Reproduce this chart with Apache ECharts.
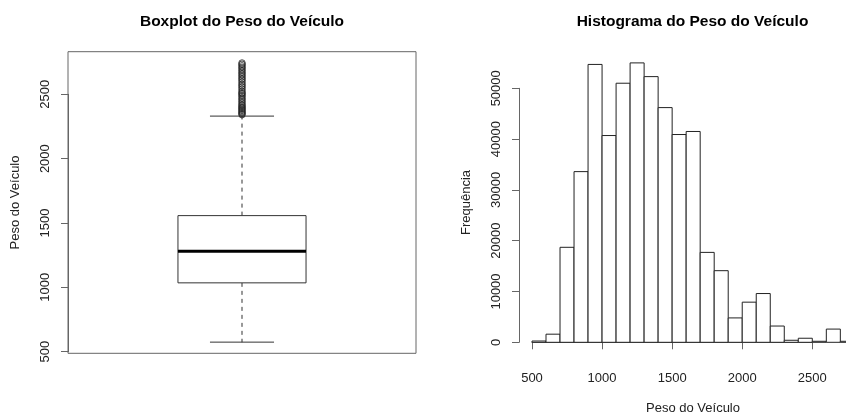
<!DOCTYPE html>
<html>
<head>
<meta charset="utf-8">
<script src="https://cdn.jsdelivr.net/npm/echarts@6/dist/echarts.min.js"></script>
<style>
  html, body { margin: 0; padding: 0; background: #fff; }
  #chart { width: 846px; height: 414px; }
</style>
</head>
<body>
<div id="chart"></div>
<script>
// Vehicle weight summary: lower whisker, Q1, median, Q3, upper whisker
const weightStats = [573, 1034, 1280, 1557, 2331];
// Points beyond the upper whisker
const weightOutliers = [2342, 2350, 2358, 2366, 2375, 2384, 2392, 2401, 2410, 2420, 2432,
  2445, 2458, 2470, 2483, 2495, 2505, 2513, 2525, 2540, 2555, 2568, 2580, 2595,
  2610, 2622, 2635, 2648, 2660, 2672, 2685, 2698, 2710, 2722, 2734, 2744];
const weightTicks = [500, 1000, 1500, 2000, 2500];

// Histogram bin edges and counts
const histBreaks = [500, 600, 700, 800, 900, 1000, 1100, 1200, 1300, 1400, 1500, 1600,
  1700, 1800, 1900, 2000, 2100, 2200, 2300, 2400, 2500, 2600, 2700, 2800];
const histCounts = [250, 1600, 18700, 33600, 54700, 40700, 51000, 55000, 52300, 46200,
  40900, 41500, 17700, 14100, 4800, 7900, 9600, 3200, 400, 800, 200, 2600, 200];
const histXTicks = [500, 1000, 1500, 2000, 2500];
const histYTicks = [0, 10000, 20000, 30000, 40000, 50000];

const FONT = "'Liberation Sans', Arial, sans-serif";
const AXIS_COLOR = '#666';
const INK = '#222';
const plain = v => String(v);

function renderBox(params, api) {
  const x = api.value(0);
  const lo = api.value(1), q1 = api.value(2), med = api.value(3), q3 = api.value(4), hi = api.value(5);
  const bw = 0.184, cw = 0.092;
  const pt = (dx, v) => api.coord([x + dx, v]);
  const seg = (a, b, style) => ({ type: 'line', shape: { x1: a[0], y1: a[1], x2: b[0], y2: b[1] }, style });
  const solid = { stroke: '#333', lineWidth: 1 };
  const dashed = { stroke: '#333', lineWidth: 1, lineDash: [4, 4] };
  const tl = pt(-bw, q3), br = pt(bw, q1);
  return {
    type: 'group',
    children: [
      seg(pt(0, q3), pt(0, hi), dashed),
      seg(pt(0, q1), pt(0, lo), dashed),
      seg(pt(-cw, hi), pt(cw, hi), solid),
      seg(pt(-cw, lo), pt(cw, lo), solid),
      { type: 'rect', shape: { x: tl[0], y: tl[1], width: br[0] - tl[0], height: br[1] - tl[1] },
        style: { fill: '#fff', stroke: '#333', lineWidth: 1 } },
      seg(pt(-bw, med), pt(bw, med), { stroke: '#000', lineWidth: 3 })
    ]
  };
}

function renderBin(params, api) {
  const a = api.coord([api.value(0), api.value(2)]);
  const b = api.coord([api.value(1), 0]);
  return {
    type: 'rect',
    shape: { x: a[0], y: a[1], width: b[0] - a[0], height: b[1] - a[1] },
    style: { fill: '#fff', stroke: '#222', lineWidth: 1 }
  };
}

const hiddenParts = {
  axisLine: { show: false }, axisTick: { show: false },
  axisLabel: { show: false }, splitLine: { show: false }
};
const nameStyle = { fontSize: 13, color: INK, fontFamily: FONT };
const tickLabel = { fontSize: 13, color: INK, fontFamily: FONT, formatter: plain };
const mainTitle = { fontSize: 15.5, fontWeight: 'bold', color: '#000', fontFamily: FONT };

const chart = echarts.init(document.getElementById('chart'), null, { renderer: 'canvas' });
chart.setOption({
  animation: false,
  backgroundColor: '#fff',
  title: [
    { text: 'Boxplot do Peso do Veículo', left: 242, top: 14, textAlign: 'center', padding: 0, textStyle: mainTitle },
    { text: 'Histograma do Peso do Veículo', left: 692.5, top: 14, textAlign: 'center', padding: 0, textStyle: mainTitle },
    // x-axis title of the histogram
    { text: 'Peso do Veículo', left: 693, top: 401.5, textAlign: 'center', padding: 0,
      textStyle: Object.assign({ fontWeight: 'normal' }, nameStyle) }
  ],
  grid: [
    { left: 68, top: 51.7, right: 430, bottom: 60.7, show: true, borderColor: AXIS_COLOR, borderWidth: 1, backgroundColor: 'transparent' },
    { left: 68, top: 94.3, right: 430, bottom: 62.3 },
    { left: 532, top: 88.3, right: 33.7, bottom: 71.7 },
    { left: 519, top: 51.7, right: -21, bottom: 60.7 }
  ],
  xAxis: [
    { gridIndex: 0, type: 'value', min: 0.5, max: 1.5, show: false },
    { gridIndex: 1, type: 'value', min: 0.5, max: 1.5, show: false },
    { gridIndex: 2, type: 'value', min: histXTicks[0], max: histXTicks[histXTicks.length - 1], interval: 500,
      offset: 11,
      axisLine: { lineStyle: { color: AXIS_COLOR } },
      axisTick: { length: 7, lineStyle: { color: AXIS_COLOR } },
      axisLabel: Object.assign({ margin: 19 }, tickLabel),
      splitLine: { show: false } },
    Object.assign({ gridIndex: 3, type: 'value', min: 408, max: 2892 }, hiddenParts)
  ],
  yAxis: [
    Object.assign({ gridIndex: 0, type: 'value', min: 486.1, max: 2831.9,
      name: 'Peso do Veículo', nameLocation: 'middle', nameGap: 46, nameRotate: 90, nameTextStyle: nameStyle }, hiddenParts),
    { gridIndex: 1, type: 'value', min: weightTicks[0], max: weightTicks[weightTicks.length - 1], interval: 500,
      axisLine: { show: true, lineStyle: { color: AXIS_COLOR } },
      axisTick: { length: 7, lineStyle: { color: AXIS_COLOR } },
      axisLabel: Object.assign({ rotate: 90, margin: 16 }, tickLabel),
      splitLine: { show: false } },
    { gridIndex: 2, type: 'value', min: histYTicks[0], max: histYTicks[histYTicks.length - 1], interval: 10000,
      offset: 13,
      axisLine: { show: true, lineStyle: { color: AXIS_COLOR } },
      axisTick: { length: 7, lineStyle: { color: AXIS_COLOR } },
      axisLabel: Object.assign({ rotate: 90, margin: 16 }, tickLabel),
      splitLine: { show: false } },
    Object.assign({ gridIndex: 3, type: 'value', min: -2200, max: 57200,
      name: 'Frequência', nameLocation: 'middle', nameGap: 46, nameRotate: 90, nameTextStyle: nameStyle }, hiddenParts)
  ],
  series: [
    { type: 'custom', xAxisIndex: 0, yAxisIndex: 0, renderItem: renderBox,
      data: [[1].concat(weightStats)], silent: true },
    { type: 'scatter', xAxisIndex: 0, yAxisIndex: 0, symbol: 'circle', symbolSize: 6.5,
      itemStyle: { color: 'rgba(0,0,0,0)', borderColor: '#222', borderWidth: 1 },
      data: weightOutliers.map(v => [1, v]), silent: true },
    { type: 'custom', xAxisIndex: 2, yAxisIndex: 2, renderItem: renderBin, clip: false,
      data: histCounts.map((c, i) => [histBreaks[i], histBreaks[i + 1], c]), silent: true }
  ]
});
</script>
</body>
</html>
